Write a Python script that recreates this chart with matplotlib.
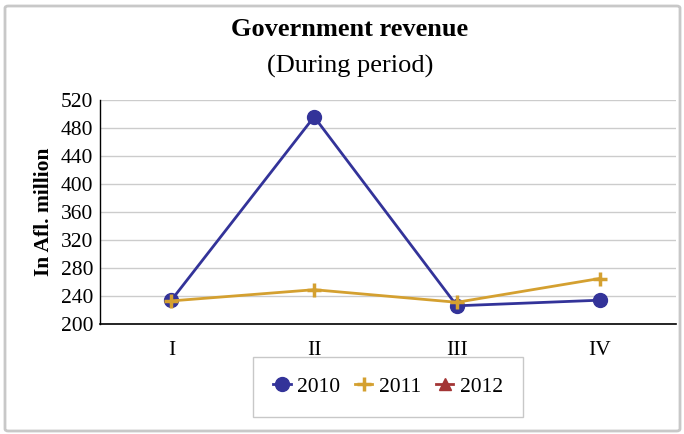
import matplotlib.pyplot as plt
from matplotlib.patches import FancyBboxPatch

plt.rcParams['font.family'] = ['Liberation Serif', 'DejaVu Serif']

quarters = ['I', 'II', 'III', 'IV']
rev_2010 = [234, 496, 226, 234]
rev_2011 = [233, 249, 231, 265]
rev_2012 = []

fig = plt.figure(figsize=(6.84, 4.34), dpi=100)
ax = fig.add_axes([100 / 684, 1 - 324 / 434, 576 / 684, 224 / 434])

# outer chart border
border = FancyBboxPatch((5 / 684, 3 / 434), 675 / 684, 425 / 434,
                        boxstyle='round,pad=0,rounding_size=0.005',
                        transform=fig.transFigure, fill=False,
                        edgecolor='#c8c8c8', linewidth=2)
fig.patches.append(border)

x = list(range(len(quarters)))
ax.plot(x, rev_2010, marker='o', markersize=10, linewidth=2, color='#333399', label='2010')
ax.plot(x, rev_2011, marker='+', markersize=10, markeredgewidth=2.5, linewidth=2,
        color='#d4a030', label='2011')
ax.plot([], [], marker='^', markersize=9, linewidth=2, color='#a33535', label='2012')

ax.set_xlim(-0.5, 3.535)
ax.set_ylim(200, 520)
ax.set_yticks(range(200, 521, 40))
ax.set_xticks(x)
ax.set_xticklabels(quarters)
ax.tick_params(length=0, labelsize=15.5)
ax.tick_params(axis='x', pad=12)
ax.tick_params(axis='y', pad=5)
ax.grid(axis='y', color='#cccccc', linewidth=1)
ax.set_axisbelow(True)
for s in ['top', 'right']:
    ax.spines[s].set_visible(False)
ax.spines['left'].set_linewidth(1)
ax.spines['bottom'].set_linewidth(1.2)

ax.set_ylabel('In Afl. million', fontsize=15.5, fontweight='bold', labelpad=5)

fig.text(350 / 684, 1 - 29 / 434, 'Government revenue', ha='center', va='center',
         fontsize=19, fontweight='bold')
fig.text(350 / 684, 1 - 66 / 434, '(During period)', ha='center', va='center', fontsize=19)

leg = fig.legend(loc='center', bbox_to_anchor=(388 / 684, 1 - 387 / 434), ncol=3,
                 fontsize=15.5, frameon=True, fancybox=False, handlelength=0.8,
                 handletextpad=0.3, columnspacing=0.7, borderpad=0.95, borderaxespad=0)
leg.get_frame().set_edgecolor('#bbbbbb')
leg.get_frame().set_linewidth(1)

fig.savefig('out.png', dpi=100)
